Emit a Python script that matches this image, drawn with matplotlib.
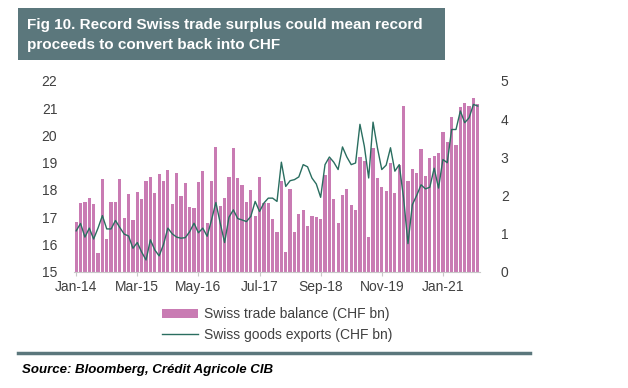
import matplotlib
matplotlib.use("Agg")
import matplotlib.pyplot as plt
from matplotlib.patches import Rectangle, Patch
from matplotlib.lines import Line2D
import numpy as np

plt.rcParams['font.family'] = ['Liberation Sans', 'DejaVu Sans']

# monthly data, Jan-14 .. Sep-21
trade_balance = [
    1.30, 1.80, 1.84, 1.93, 1.78, 0.50, 2.43, 0.85, 1.82, 1.83, 2.43, 1.40,
    2.03, 1.36, 2.10, 1.90, 2.38, 2.48, 2.07, 2.56, 2.37, 2.66, 1.78, 2.58,
    1.99, 2.33, 1.69, 1.68, 2.35, 2.63, 1.28, 2.37, 3.27, 1.71, 1.93, 2.47,
    3.25, 2.46, 2.28, 1.84, 2.15, 1.45, 2.48, 1.80, 1.80, 1.38, 1.03, 2.37,
    0.51, 2.18, 1.04, 1.51, 1.61, 1.20, 1.45, 1.44, 1.38, 2.54, 2.96, 1.91,
    1.28, 2.02, 2.18, 1.76, 1.61, 3.01, 2.89, 0.92, 3.25, 2.45, 2.23, 2.12,
    2.85, 2.06, 2.81, 4.34, 2.37, 2.68, 2.59, 3.22, 2.52, 2.98, 3.04, 3.12,
    3.66, 3.40, 4.06, 3.32, 4.32, 4.43, 4.34, 4.56, 4.39,
]
goods_exports = [
    16.50, 16.77, 16.27, 16.60, 16.20, 16.60, 17.06, 16.57, 16.57, 16.88, 16.62, 16.38,
    16.31, 15.86, 16.07, 15.72, 15.43, 16.17, 15.80, 15.58, 16.00, 16.60, 16.39, 16.27,
    16.23, 16.25, 16.47, 16.78, 16.43, 16.60, 16.30, 16.90, 17.54, 16.78, 16.07, 17.00,
    17.27, 16.95, 16.90, 16.84, 17.03, 17.58, 17.21, 17.52, 17.70, 17.70, 17.58, 19.02,
    18.13, 18.34, 18.38, 18.48, 18.93, 18.85, 18.44, 18.22, 17.73, 18.93, 19.21, 19.02,
    18.75, 19.58, 19.21, 18.93, 18.99, 20.41, 19.61, 18.44, 20.49, 19.55, 18.75, 18.91,
    19.55, 18.69, 18.93, 17.70, 16.03, 17.46, 17.80, 18.19, 18.04, 18.10, 18.80, 18.07,
    19.12, 19.00, 20.22, 20.22, 20.90, 20.47, 20.65, 21.14, 21.08,
]
tick_pos = [0, 14, 28, 42, 56, 70, 84]
tick_labels = ['Jan-14', 'Mar-15', 'May-16', 'Jul-17', 'Sep-18', 'Nov-19', 'Jan-21']

pink = '#c97bb3'
green = '#2a6e60'
slate = '#5b777c'
grey = '#404040'

fig = plt.figure(figsize=(6.28, 3.88), dpi=100)

# title box
fig.patches.append(Rectangle((18/628, 1-60/388), 427/628, 52/388,
                             transform=fig.transFigure, facecolor=slate, edgecolor='none'))
fig.text(27/628, 1-25/388, 'Fig 10. Record Swiss trade surplus could mean record',
         color='white', fontsize=11, fontweight='bold', va='center', ha='left')
fig.text(27/628, 1-45/388, 'proceeds to convert back into CHF',
         color='white', fontsize=11, fontweight='bold', va='center', ha='left')

ax = fig.add_axes([74/628, 1-271.7/388, 406/628, 190.7/388])
ax2 = ax.twinx()

x = np.arange(len(trade_balance))
# bars on right axis, line on left axis
ax2.bar(x, trade_balance, width=0.74, color=pink, edgecolor='none', zorder=1)
ax2.set_ylim(0, 5)
ax.set_ylim(15, 22)
ax.set_zorder(ax2.get_zorder() + 1)
ax.patch.set_visible(False)
ax.plot(x, goods_exports, color=green, lw=1.0, zorder=3)

ax.set_xlim(-0.5, len(x) - 0.5)
ax.set_xticks(tick_pos)
ax.set_xticklabels(tick_labels)
ax.set_yticks(range(15, 23))
ax2.set_yticks(range(0, 6))

for a in (ax, ax2):
    for s in ('top', 'left', 'right'):
        a.spines[s].set_visible(False)
    a.spines['bottom'].set_color('#c8c8c8')
    a.tick_params(axis='y', length=0, labelsize=10, colors=grey)
ax.tick_params(axis='y', pad=12)
ax2.tick_params(axis='y', pad=15)
ax.tick_params(axis='x', length=3, color='#c8c8c8', labelsize=10, labelcolor=grey, pad=3)
ax2.spines['bottom'].set_visible(False)

handles = [Patch(facecolor=pink, edgecolor='none'), Line2D([], [], color=green, lw=1.0)]
fig.legend(handles, ['Swiss trade balance (CHF bn)', 'Swiss goods exports (CHF bn)'],
           loc='center left', bbox_to_anchor=(162/628, 1-324.5/388), frameon=False,
           fontsize=10, handlelength=2.6, handletextpad=0.4, labelspacing=0.45,
           labelcolor=grey, borderpad=0, borderaxespad=0)

# bottom rule and source
fig.add_artist(Line2D([18/628, 530/628], [1-353/388, 1-353/388], transform=fig.transFigure,
                      color=slate, lw=2.5))
fig.text(22/628, 1-370/388, 'Source: Bloomberg, Crédit Agricole CIB', fontsize=9.5,
         fontweight='bold', fontstyle='italic', color='black', va='center', ha='left')

fig.savefig('out.png', dpi=100)
